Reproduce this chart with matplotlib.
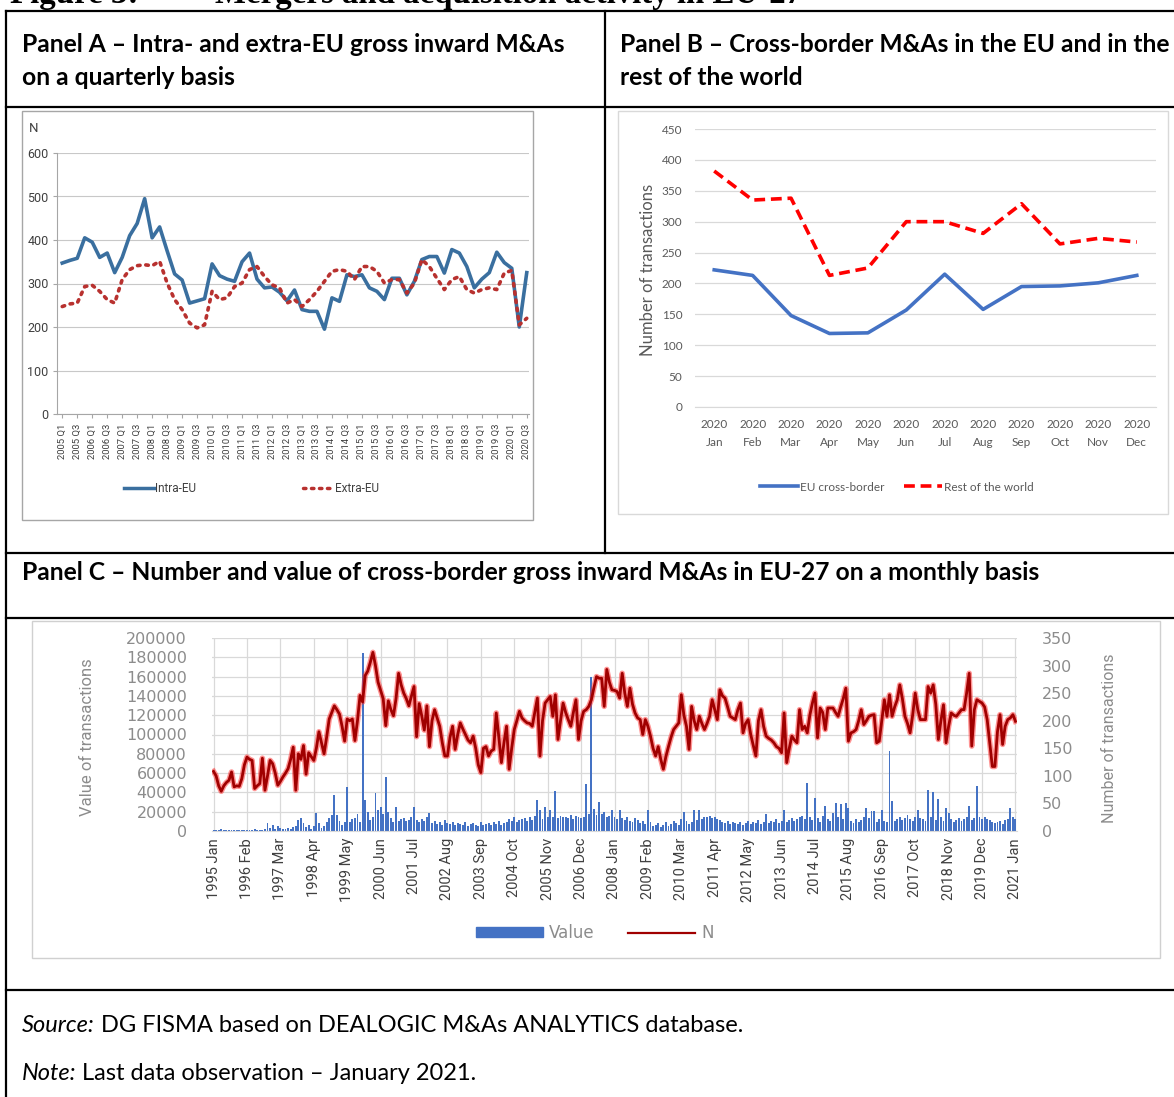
#!/usr/bin/env python
# -*- coding: utf-8 -*-
"""
Figure 3: Mergers and acquisition activity in EU-27 (three panels in a table).
"""

import matplotlib
matplotlib.use("Agg")
import matplotlib.pyplot as plt
from matplotlib import font_manager
from matplotlib.lines import Line2D
from matplotlib.patches import Rectangle, Patch

# Panel A - quarterly, 2005 Q1 .. 2020 Q3
quarter_labels = [f"{y} Q{q}" for y in range(2005, 2021) for q in (1, 2, 3, 4)][:63]
intra_eu = [347, 353, 358, 405, 395, 360, 370, 325, 360, 410, 438, 495,
            405, 430, 375, 322, 308, 255, 260, 265, 345, 318, 310, 305,
            350, 370, 310, 290, 292, 280, 260, 285, 240, 236, 236, 195,
            267, 259, 320, 316, 320, 290, 282, 263, 312, 312, 274, 305,
            355, 362, 362, 324, 378, 370, 339, 290, 310, 325, 372, 348,
            335, 200, 325]
extra_eu = [247, 253, 255, 293, 296, 282, 263, 255, 309, 332, 341, 343,
            341, 351, 301, 263, 240, 209, 198, 205, 282, 263, 267, 293,
            301, 332, 339, 316, 297, 290, 255, 263, 247, 263, 282, 305,
            328, 332, 328, 309, 339, 339, 328, 301, 309, 309, 278, 301,
            355, 339, 312, 286, 309, 316, 286, 278, 286, 290, 286, 324,
            330, 205, 220]

# Panel B - monthly 2020
months_2020 = ["Jan", "Feb", "Mar", "Apr", "May", "Jun",
               "Jul", "Aug", "Sep", "Oct", "Nov", "Dec"]
eu_cross_border = [222, 213, 148, 119, 120, 157, 215, 158, 195, 196, 201, 213]
rest_of_world = [382, 335, 338, 213, 225, 300, 300, 281, 329, 264, 273, 267]

# Panel C - monthly, 1995 Jan .. 2021 Jan
n_deals = [
    108, 100, 82, 72, 82, 88, 92, 107, 80, 82, 81, 95,            # 1995
    120, 134, 130, 128, 77, 82, 86, 132, 74, 100, 128, 122,       # 1996
    105, 83, 90, 98, 105, 113, 130, 152, 74, 140, 130, 155,       # 1997
    103, 142, 135, 128, 150, 180, 160, 140, 170, 203, 215, 227,   # 1998
    220, 212, 190, 163, 203, 200, 203, 164, 200, 246, 234, 282,   # 1999
    290, 306, 324, 300, 270, 255, 240, 191, 236, 220, 209, 240,   # 2000
    286, 265, 250, 240, 227, 245, 262, 171, 231, 209, 183, 227,   # 2001
    153, 200, 220, 205, 190, 160, 136, 136, 170, 190, 148, 175,   # 2002
    196, 185, 175, 165, 160, 172, 150, 120, 106, 150, 153, 136,   # 2003
    145, 148, 214, 170, 124, 160, 190, 112, 150, 184, 200, 217,   # 2004
    205, 200, 196, 195, 190, 215, 241, 136, 200, 232, 238, 244,   # 2005
    208, 247, 166, 200, 232, 215, 202, 190, 215, 238, 166, 200,   # 2006
    217, 220, 226, 238, 260, 280, 277, 277, 226, 293, 270, 256,   # 2007
    255, 253, 241, 286, 250, 226, 259, 230, 214, 205, 202, 175,   # 2008
    202, 190, 172, 150, 136, 153, 130, 112, 135, 153, 170, 184,   # 2009
    190, 196, 247, 210, 190, 148, 226, 200, 184, 208, 195, 184,   # 2010
    195, 208, 238, 220, 202, 256, 245, 241, 225, 208, 205, 202,   # 2011
    220, 232, 178, 195, 202, 175, 155, 136, 200, 220, 190, 172,   # 2012
    168, 165, 160, 153, 150, 142, 214, 124, 150, 172, 165, 160,   # 2013
    220, 184, 190, 178, 210, 232, 250, 169, 223, 215, 184, 223,   # 2014
    223, 223, 215, 208, 225, 240, 259, 163, 178, 180, 184, 200,   # 2015
    220, 193, 200, 208, 210, 211, 160, 163, 200, 238, 208, 247,   # 2016
    208, 225, 238, 265, 240, 208, 195, 178, 210, 250, 220, 202,   # 2017
    202, 202, 262, 250, 265, 230, 166, 200, 229, 160, 190, 214,   # 2018
    210, 208, 214, 220, 220, 250, 286, 154, 220, 238, 235, 232,   # 2019
    225, 202, 160, 117, 117, 180, 211, 157, 190, 202, 205, 211,   # 2020
    199,                                                          # 2021
]
deal_value = [
    1500, 800, 1000, 2500, 800, 1200, 1500, 1000, 800, 1200, 1500, 1000,
    1200, 1500, 800, 1000, 2500, 1200, 1000, 1500, 2000, 8000, 3000, 6000,
    2500, 5000, 3000, 2000, 2500, 3500, 2000, 4000, 5000, 11000, 13000, 8000,
    4000, 6000, 2500, 5000, 19000, 8000, 3000, 5000, 9000, 13000, 16500, 37000,
    16500, 10000, 6000, 9000, 46000, 9500, 12000, 13000, 18000, 9000, 184000, 32000,
    20000, 11000, 15000, 39000, 22000, 25000, 18000, 56000, 20000, 13000, 9000, 25000,
    10000, 12000, 13000, 10000, 11000, 14000, 25000, 11000, 9000, 12000, 10000, 14000,
    19000, 8000, 10000, 7000, 9000, 6000, 11000, 8000, 7000, 9000, 6000, 8000,
    7000, 6000, 9000, 5000, 7000, 8000, 6000, 5000, 9000, 6000, 7000, 8000,
    6000, 9000, 7000, 10000, 6000, 8000, 9000, 12000, 10000, 14000, 9000, 11000,
    12000, 13000, 10000, 14000, 11000, 16000, 32000, 22000, 12000, 25000, 14000, 22000,
    15000, 41000, 13000, 16000, 14000, 15000, 13000, 17000, 12000, 16000, 14000, 13000,
    15000, 49000, 18000, 160000, 23000, 17000, 30000, 18000, 20000, 14000, 16000, 22000,
    14000, 12000, 22000, 13000, 11000, 14000, 10000, 9000, 13000, 11000, 8000, 10000,
    7000, 22000, 9000, 5000, 6000, 8000, 4000, 6000, 9000, 5000, 7000, 10000,
    8000, 6000, 12000, 20000, 10000, 7000, 9000, 22000, 11000, 22000, 12000, 15000,
    14000, 16000, 13000, 15000, 12000, 11000, 9000, 8000, 10000, 7000, 9000, 8000,
    7000, 9000, 6000, 8000, 10000, 7000, 9000, 8000, 11000, 7000, 9000, 18000,
    8000, 10000, 9000, 12000, 8000, 10000, 22000, 9000, 11000, 13000, 10000, 12000,
    14000, 16000, 12000, 50000, 15000, 11000, 34000, 13000, 9000, 16000, 26000, 12000,
    10000, 19000, 29000, 14000, 28000, 12000, 29000, 24000, 10000, 8000, 12000, 9000,
    11000, 14000, 24000, 13000, 21000, 21000, 9000, 12000, 22000, 10000, 9000, 83000,
    31000, 10000, 12000, 14000, 11000, 13000, 17000, 12000, 10000, 15000, 22000, 13000,
    12000, 10000, 43000, 15000, 40000, 11000, 33000, 14000, 10000, 24000, 19000, 12000,
    9000, 11000, 13000, 10000, 12000, 14000, 26000, 11000, 13000, 47000, 15000, 12000,
    14000, 12000, 11000, 9000, 8000, 9000, 10000, 7000, 11000, 12000, 24000, 14000,
    12000,
]
month_tick_labels = ["1995 Jan", "1996 Feb", "1997 Mar", "1998 Apr", "1999 May",
                     "2000 Jun", "2001 Jul", "2002 Aug", "2003 Sep", "2004 Oct",
                     "2005 Nov", "2006 Dec", "2008 Jan", "2009 Feb", "2010 Mar",
                     "2011 Apr", "2012 May", "2013 Jun", "2014 Jul", "2015 Aug",
                     "2016 Sep", "2017 Oct", "2018 Nov", "2019 Dec", "2021 Jan"]

W, H = 1174, 1097

installed = {f.name for f in font_manager.fontManager.ttflist}
NARROW = "Liberation Sans Narrow" if "Liberation Sans Narrow" in installed else "Roboto"
BODY = "Lato" if "Lato" in installed else "DejaVu Sans"

fig = plt.figure(figsize=(W / 100, H / 100), dpi=100)
fig.patch.set_facecolor("white")
renderer = fig.canvas.get_renderer()


def fx(x):
    return x / W


def fy(y):
    return 1 - y / H


def add_ax(x0, y0, x1, y1):
    ax = fig.add_axes([fx(x0), fy(y1), (x1 - x0) / W, (y1 - y0) / H])
    ax.patch.set_alpha(0)
    return ax


def fit_size(s, width_px, **kw):
    t = fig.text(0, 0, s, fontsize=10, **kw)
    w = t.get_window_extent(renderer).width
    t.remove()
    return 10 * width_px / w


def line(x0, y0, x1, y1, lw=1.6, color="black"):
    fig.add_artist(Line2D([fx(x0), fx(x1)], [fy(y0), fy(y1)], color=color,
                          lw=lw, transform=fig.transFigure))


def frame(x0, y0, x1, y1, color):
    fig.add_artist(Rectangle((fx(x0), fy(y1)), (x1 - x0) / W, (y1 - y0) / H,
                             transform=fig.transFigure, facecolor="white",
                             edgecolor=color, lw=1.0, zorder=-5))


# title (cut at the top of the page, as in the source document)
tsize = fit_size("Mergers and acquisition activity in EU-27", 590,
                 family="Liberation Serif", fontweight="bold")
fig.text(fx(10), fy(3.5), "Figure 3:", family="Liberation Serif", fontweight="bold",
         fontsize=tsize, va="baseline")
fig.text(fx(215), fy(3.5), "Mergers and acquisition activity in EU-27",
         family="Liberation Serif", fontweight="bold", fontsize=tsize, va="baseline")

# table rules
for y in (11, 107, 553, 618, 990):
    line(6, y, W, y)
line(6, 11, 6, H)
line(605, 11, 605, 553)

# headers
hsize = fit_size("Panel C – Number and value of cross-border gross inward M&As in EU-27 on a monthly basis",
                 1021, family=BODY, fontweight="bold")
fig.text(fx(22), fy(61), "Panel A – Intra- and extra-EU gross inward M&As\non a quarterly basis",
         family=BODY, fontweight="bold", fontsize=hsize, va="center", linespacing=1.55)
fig.text(fx(620), fy(61), "Panel B – Cross-border M&As in the EU and in the\nrest of the world",
         family=BODY, fontweight="bold", fontsize=hsize, va="center", linespacing=1.55)
fig.text(fx(22), fy(572), "Panel C – Number and value of cross-border gross inward M&As in EU-27 on a monthly basis",
         family=BODY, fontweight="bold", fontsize=hsize, va="center")

# source / note
ssize = fit_size("Source: DG FISMA based on DEALOGIC M&As ANALYTICS database.", 723, family=BODY)
for ypos, lead, rest in ((1026, "Source:", " DG FISMA based on DEALOGIC M&As ANALYTICS database."),
                         (1074, "Note:", " Last data observation – January 2021.")):
    t = fig.text(fx(22), fy(ypos), lead, family=BODY, style="italic", fontsize=ssize, va="center")
    w = t.get_window_extent(renderer).width
    fig.text(fx(22 + w), fy(ypos), rest, family=BODY, fontsize=ssize, va="center")

# ---------------- Panel A ----------------
frame(22, 111, 533, 520, "#a6a6a6")
axA = add_ax(57, 153, 529, 414)
red_a = "#b8312f"
blue_a = "#3a6f9f"
xq = list(range(len(quarter_labels)))
axA.plot(xq, intra_eu, color=blue_a, lw=2.6, solid_joinstyle="round", zorder=3)
axA.plot(xq, extra_eu, color=red_a, lw=2.6, ls=(0, (0.7, 1.6)),
         dash_capstyle="round", zorder=3)
axA.set_xlim(-0.7, 62.3)
axA.set_ylim(0, 600)
axA.set_yticks(range(0, 601, 100))
axA.set_xticks(xq[::2])
axA.set_xticklabels(quarter_labels[::2], rotation=90, family=NARROW, fontsize=6.8,
                    color="#404040")
axA.set_xticks(xq[4::4], minor=True)
axA.tick_params(axis="x", which="minor", length=0)
axA.tick_params(axis="x", which="major", length=3, color="#a6a6a6", pad=4)
axA.tick_params(axis="y", length=3, color="#a6a6a6", pad=3, labelsize=9, labelcolor="#404040")
for lab in axA.get_yticklabels():
    lab.set_family(NARROW)
axA.grid(axis="y", color="#c8c8c8", lw=0.8)
axA.grid(axis="x", which="minor", color="#b0b0b0", lw=0.8, ls=(0, (1, 2)))
for side in ("top", "right"):
    axA.spines[side].set_visible(False)
for side in ("left", "bottom"):
    axA.spines[side].set_color("#a6a6a6")
axA.set_axisbelow(True)
fig.text(fx(34), fy(128), "N", family=NARROW, fontsize=9.5, color="#404040", ha="center", va="center")
axA.legend(handles=[Line2D([], [], color=blue_a, lw=2.5),
                    Line2D([], [], color=red_a, lw=2.5, ls=(0, (0.7, 1.6)), dash_capstyle="round")],
           labels=["Intra-EU", "Extra-EU"], loc="center", ncol=2, frameon=False,
           bbox_to_anchor=(fx(251), fy(489)), bbox_transform=fig.transFigure,
           prop={"family": NARROW, "size": 8.5}, handlelength=2.6, handletextpad=0.1,
           columnspacing=9, labelcolor="#404040")

# ---------------- Panel B ----------------
frame(618, 111, 1168, 514, "#d9d9d9")
axB = add_ax(695, 129, 1156, 407)
xm = list(range(len(months_2020)))
axB.plot(xm, eu_cross_border, color="#4472c4", lw=2.6, solid_joinstyle="round")
axB.plot(xm, rest_of_world, color="#ff0000", lw=2.6, ls=(0, (3, 1.6)))
axB.set_xlim(-0.5, 11.5)
axB.set_ylim(0, 450)
axB.set_yticks(range(0, 451, 50))
axB.set_xticks(xm)
axB.set_xticklabels([f"2020\n{m}" for m in months_2020], linespacing=1.7)
axB.tick_params(length=0, labelcolor="#595959", labelsize=8.5, pad=9)
for lab in axB.get_xticklabels() + axB.get_yticklabels():
    lab.set_family(BODY)
axB.grid(axis="y", color="#d9d9d9", lw=0.9)
for side in ("top", "right", "left"):
    axB.spines[side].set_visible(False)
axB.spines["bottom"].set_color("#d9d9d9")
axB.set_axisbelow(True)
fig.text(fx(648), fy(270), "Number of transactions", rotation=90, family=BODY,
         fontsize=12, color="#595959", ha="center", va="center")
axB.legend(handles=[Line2D([], [], color="#4472c4", lw=2.6),
                    Line2D([], [], color="#ff0000", lw=2.6, ls=(0, (3, 1.6)))],
           labels=["EU cross-border", "Rest of the world"], loc="center", ncol=2,
           frameon=False, bbox_to_anchor=(fx(897), fy(487)), bbox_transform=fig.transFigure,
           prop={"family": BODY, "size": 8.5}, handlelength=3.2, handletextpad=0.2,
           columnspacing=1.6, labelcolor="#595959")

# ---------------- Panel C ----------------
frame(32, 621, 1160, 958, "#d0d0d0")
axC = add_ax(212, 638, 1017, 831)
xc = list(range(len(n_deals)))
axC.bar(xc, deal_value, width=0.75, color="#4472c4", zorder=2)
axC.set_xlim(-0.6, 312.6)
axC.set_ylim(0, 200000)
axC.set_yticks(range(0, 200001, 20000))
axC.set_xticks(xc[::13])
axC.set_xticklabels(month_tick_labels, rotation=90, family=NARROW, fontsize=10.5,
                    color="#404040")
axC.tick_params(axis="x", length=0, pad=5)
axC.tick_params(axis="y", length=0, pad=18, labelsize=11.5, labelcolor="#8c8c8c")
axC.grid(color="#d9d9d9", lw=0.9)
axC.set_axisbelow(True)
for side in ("top", "right", "left"):
    axC.spines[side].set_visible(False)
axC.spines["bottom"].set_color("#d9d9d9")

axC2 = axC.twinx()
axC2.plot(xc, n_deals, color="#ff2a2a", lw=4.0, alpha=0.5, solid_joinstyle="round")
axC2.plot(xc, n_deals, color="#a00000", lw=2.0, solid_joinstyle="round")
axC2.set_ylim(0, 350)
axC2.set_yticks(range(0, 351, 50))
axC2.tick_params(axis="y", length=0, pad=18, labelsize=11.5, labelcolor="#8c8c8c")
for side in ("top", "right", "left", "bottom"):
    axC2.spines[side].set_visible(False)

fig.text(fx(88), fy(737), "Value of transactions", rotation=90, family=NARROW,
         fontsize=12, color="#8c8c8c", ha="center", va="center")
fig.text(fx(1110), fy(738), "Number of transactions", rotation=90, family=NARROW,
         fontsize=11.5, color="#8c8c8c", ha="center", va="center")
axC.legend(handles=[Patch(color="#4472c4"), Line2D([], [], color="#a00000", lw=1.6)],
           labels=["Value", "N"], loc="center", ncol=2, frameon=False,
           bbox_to_anchor=(fx(595), fy(933)), bbox_transform=fig.transFigure,
           prop={"size": 12}, handlelength=4.0, handleheight=0.55, handletextpad=0.4,
           columnspacing=2.0, labelcolor="#8c8c8c")

fig.savefig("out.png", dpi=100, facecolor="white")
